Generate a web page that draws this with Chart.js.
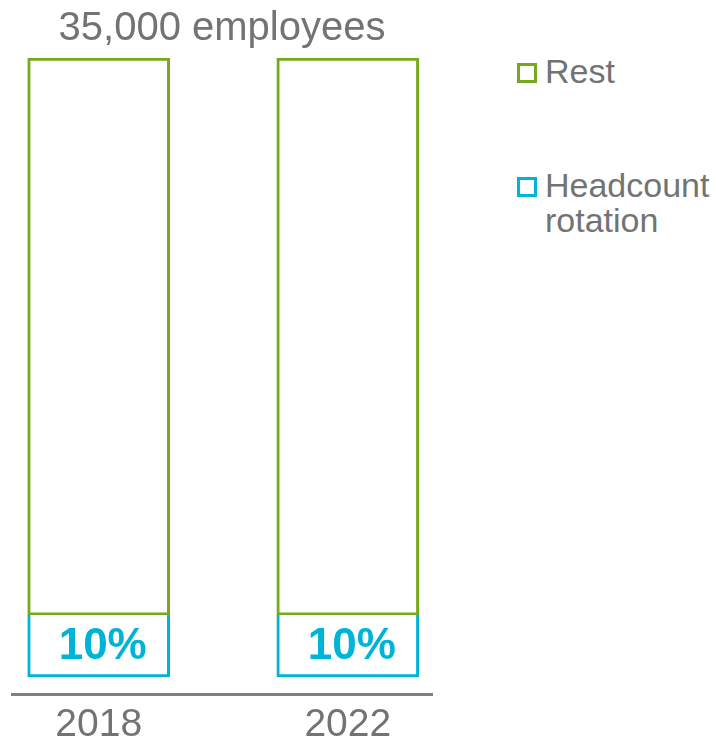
<!DOCTYPE html>
<html>
<head>
<meta charset="utf-8">
<script src="https://cdn.jsdelivr.net/npm/chart.js@4"></script>
<style>
    body { margin: 0; background: #fff; font-family: "Liberation Sans", Arial, sans-serif; overflow: hidden; }
    #wrap { position: relative; width: 716px; height: 739px; overflow: hidden; }
    #chart_box { position: absolute; left: 0; top: 0; width: 445px; height: 757px; }
    #legend { position: absolute; left: 517px; top: 54px; }
    #legend ul { list-style: none; margin: 0; padding: 0; }
    #legend li { position: relative; padding-left: 28px; font-size: 34px; line-height: 35px; color: #737373; margin-bottom: 79px; }
    #legend li span.box { position: absolute; left: 0; top: 9px; width: 14px; height: 14px; border: 3.5px solid; }
</style>
</head>
<body>
<div id="wrap">
    <div id="chart_box"><canvas id="bar_chart"></canvas></div>
    <div id="legend"></div>
</div>
<script>
const years = ["2018", "2022"];
const rest_values = [90, 90];
const rotation_values = [10, 10];
const rotation_labels = ["10%", "10%"];
const title_text = "35,000 employees";
const green = "#76a81c";
const cyan = "#00b4d8";
const grey_text = "#737373";

// labels "10%" au milieu du segment bleu
const segment_labels = {
    id: 'segment_labels',
    afterDatasetsDraw(chart) {
        const ctx = chart.ctx;
        const meta = chart.getDatasetMeta(1);
        ctx.save();
        ctx.font = "bold 44px 'Liberation Sans', Arial, sans-serif";
        ctx.fillStyle = cyan;
        ctx.textAlign = "center";
        ctx.textBaseline = "middle";
        meta.data.forEach((bar, i) => {
            ctx.fillText(rotation_labels[i], bar.x + 4, (bar.y + bar.base) / 2 + 1);
        });
        ctx.restore();
    }
};

const chart = new Chart(document.getElementById('bar_chart'), {
    type: 'bar',
    data: {
        datasets: [{
            label: "Rest",
            data: rest_values.map((v, i) => ({x: i, y: v})),
            backgroundColor: "#ffffff",
            borderColor: green,
            borderWidth: 3,
            borderSkipped: false,
            barThickness: 142,
            order: 1
        }, {
            label: "Headcount rotation",
            data: rotation_values.map((v, i) => ({x: i, y: v})),
            backgroundColor: "#ffffff",
            borderColor: cyan,
            borderWidth: 3,
            borderSkipped: 'end',
            barThickness: 142,
            order: 0
        }]
    },
    options: {
        responsive: true,
        maintainAspectRatio: false,
        animation: false,
        layout: { padding: { left: 12, right: 13, top: 0, bottom: 0 } },
        plugins: {
            legend: { display: false },
            tooltip: { enabled: false },
            title: {
                display: true,
                text: title_text,
                color: grey_text,
                font: { family: "'Liberation Sans', Arial, sans-serif", size: 40, weight: 'normal', lineHeight: 1.2 },
                padding: { top: 5, bottom: 5 }
            }
        },
        scales: {
            x: {
                type: 'linear',
                stacked: true,
                offset: false,
                min: -0.348,
                max: 1.338,
                grid: { display: false, drawTicks: false, offset: false },
                border: { display: true, color: "#808080", width: 3 },
                ticks: {
                    stepSize: 1,
                    includeBounds: false,
                    autoSkip: false,
                    maxRotation: 0,
                    padding: 12,
                    color: grey_text,
                    font: { family: "'Liberation Sans', Arial, sans-serif", size: 39, lineHeight: 1.0 },
                    callback: (v) => years[v] ?? ""
                }
            },
            y: {
                stacked: true,
                display: false,
                min: -2.75,
                max: 100
            }
        }
    },
    plugins: [segment_labels]
});

// legende html
const text = [];
text.push('<ul>');
[chart.data.datasets[0], chart.data.datasets[1]].forEach((ds) => {
    const words = ds.label.split(" ");
    text.push('<li><span class="box" style="border-color:' + ds.borderColor + '"></span>' + words.join("<br>") + '</li>');
});
text.push('</ul>');
document.getElementById('legend').innerHTML = text.join("");
</script>
</body>
</html>
